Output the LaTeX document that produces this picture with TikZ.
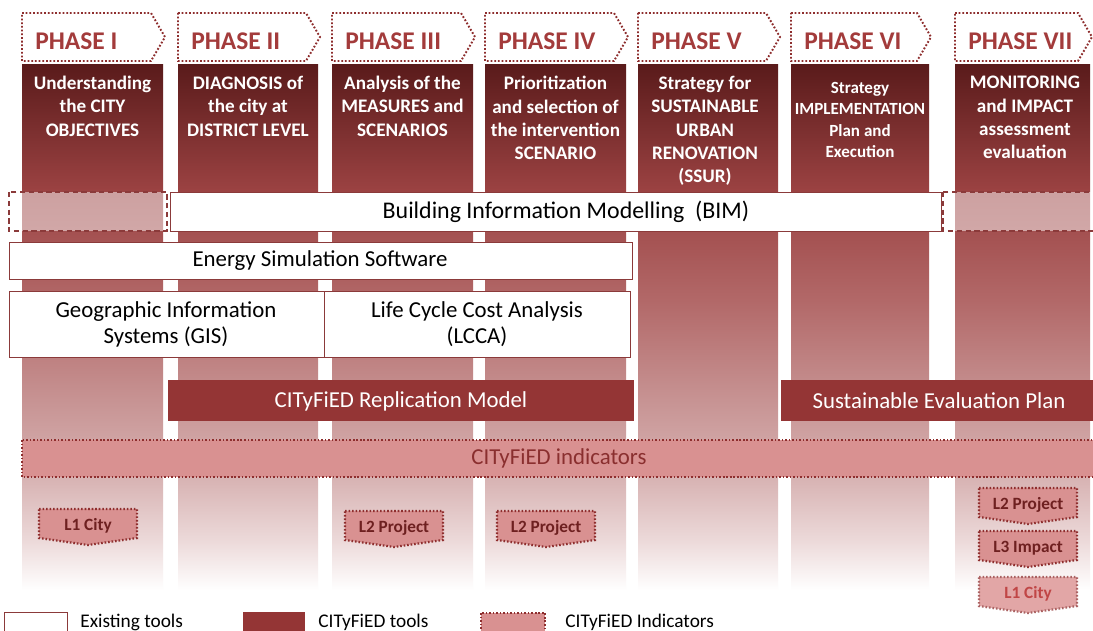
\documentclass[tikz,border=0pt]{standalone}
\usepackage{fontspec}
\setmainfont{Carlito}
\definecolor{cA}{HTML}{5A1B1B}
\definecolor{cB}{HTML}{9B4242}
\definecolor{cC}{HTML}{B26868}
\definecolor{cD}{HTML}{C79393}
\definecolor{cE}{HTML}{D8B4B4}
\definecolor{cF}{HTML}{ECD9D9}
\definecolor{dred}{HTML}{8E2E2E}
\definecolor{phasered}{HTML}{A33B3B}
\definecolor{toolred}{HTML}{943535}
\definecolor{bandfill}{HTML}{D99191}
\definecolor{bandtext}{HTML}{8A2F2F}
\definecolor{badgetext}{HTML}{6E2020}
\definecolor{boxline}{HTML}{8B3A3A}
\definecolor{lightbadge}{HTML}{E2A6A6}
\definecolor{lighttext}{HTML}{C04646}
\pgfdeclareverticalshading{colshade}{100bp}{color(0bp)=(white); color(25bp)=(white); color(29.76bp)=(cF); color(35.48bp)=(cE); color(43.1bp)=(cD); color(52.62bp)=(cC); color(63.1bp)=(cB); color(75bp)=(cA); color(100bp)=(cA)}
\begin{document}
\begin{tikzpicture}[x=0.02cm,y=-0.02cm,
  colbox/.style={shading=colshade, draw=none},
  phasebox/.style={draw=dred, fill=white, line width=1.1pt, dash pattern=on 1pt off 1.1pt},
  phasetext/.style={anchor=west, inner sep=0pt, font=\fontsize{14.5}{17}\selectfont\bfseries, text=phasered},
  headtext/.style={anchor=north, inner sep=0pt, align=center, text=white, font=\fontsize{10.9}{13.2}\selectfont\bfseries},
  existbox/.style={draw=boxline, fill=white, line width=0.5pt},
  dashbox/.style={draw=boxline, fill=white, fill opacity=0.5, line width=0.6pt, dash pattern=on 3pt off 2pt},
  tooltext/.style={inner sep=0pt, align=center, font=\fontsize{13}{14.8}\selectfont, text=black},
  darkbox/.style={fill=toolred, draw=none},
  darktext/.style={inner sep=0pt, font=\fontsize{13}{15}\selectfont, text=white},
  dotbox/.style={draw=dred, fill=bandfill, line width=1.3pt, dash pattern=on 0.9pt off 1.1pt},
  badgelabel/.style={inner sep=0pt, font=\fontsize{9.8}{11}\selectfont\bfseries, text=badgetext},
  legendtext/.style={anchor=west, inner sep=0pt, font=\fontsize{11}{13}\selectfont, text=black}]
\useasboundingbox (0,0) rectangle (1093,631);
\fill[white] (0,0) rectangle (1093,631);
% columns
\foreach \xa/\xb/\nm in {22/163/I, 178/318/II, 332/473/III, 485/626/IV, 638/778/V, 791/929/VI, 955/1090/VII}{
  \path[colbox] (\xa,65) rectangle (\xb,590);
  \draw[phasebox] (\xa,13) -- ({\xb-12},13) -- ({\xb+2},37) -- ({\xb-12},61) -- (\xa,61) -- cycle;
  \node[phasetext] (ph\nm) at ({\xa+13},41) {PHASE \nm};
}
% header texts
\node[headtext] (h1) at (92.5,76) {Understanding\\the CITY\\OBJECTIVES};
\node[headtext] (h2) at (248,76) {DIAGNOSIS of\\the city at\\DISTRICT LEVEL};
\node[headtext] (h3) at (402.5,76) {Analysis of the\\MEASURES and\\SCENARIOS};
\node[headtext] (h4) at (555.5,76) {Prioritization\\and selection of\\the intervention\\SCENARIO};
\node[headtext] (h5) at (705,76) {Strategy for\\SUSTAINABLE\\URBAN\\RENOVATION\\(SSUR)};
\node[headtext, font=\fontsize{9.7}{12.1}\selectfont\bfseries] (h6) at (860,82) {Strategy\\IMPLEMENTATION\\Plan and\\Execution};
\node[headtext] (h7) at (1025,76) {MONITORING\\and IMPACT\\assessment\\evaluation};
% BIM row
\path[dashbox] (9,192) rectangle (167,231);
\path[dashbox] (943,192) rectangle (1100,231);
\path[existbox] (170,192) rectangle (941,231);
\node[tooltext, font=\fontsize{13.6}{15}\selectfont] (bim) at (566,212) {Building Information Modelling~~(BIM)};
% Energy simulation
\path[existbox] (9,242) rectangle (632,279);
\node[tooltext] (ess) at (320,261) {Energy Simulation Software};
% GIS and LCCA
\path[existbox] (9,291) rectangle (324,357);
\node[tooltext] (gis) at (166,324) {Geographic Information\\Systems (GIS)};
\path[existbox] (324,291) rectangle (630,357);
\node[tooltext] (lcca) at (477,324) {Life Cycle Cost Analysis\\(LCCA)};
% CITyFiED tools
\path[darkbox] (168,380) rectangle (634,421);
\node[darktext] (crm) at (401,401) {CITyFiED Replication Model};
\path[darkbox] (781,380) rectangle (1100,421);
\node[darktext] (sep) at (939,401) {Sustainable Evaluation Plan};
% indicators band
\path[dotbox] (22,440) rectangle (1100,477);
\node[darktext, text=bandtext] (ind) at (559,458) {CITyFiED indicators};
% badges
\foreach \bx/\by/\bt/\nm in {39/509/L1 City/b1, 345/511/L2 Project/b3, 497/511/L2 Project/b4, 979/488/L2 Project/b7a, 979/531/L3 Impact/b7b}{
  \path[dotbox] (\bx,\by) -- ({\bx+98},\by) -- ({\bx+98},{\by+29}) -- ({\bx+49},{\by+36}) -- (\bx,{\by+29}) -- cycle;
  \node[badgelabel] (\nm) at ({\bx+49},{\by+17}) {\bt};
}
\path[dotbox, fill=lightbadge, draw=dred!75] (979,577) -- (1077,577) -- (1077,606) -- (1028,613) -- (979,606) -- cycle;
\node[badgelabel, text=lighttext] (b7c) at (1028,594) {L1 City};
% legend
\path[existbox] (4,612) rectangle (67,640);
\node[legendtext] (lg1) at (80,622) {Existing tools};
\path[darkbox] (243,612) rectangle (305,640);
\node[legendtext] (lg2) at (318,622) {CITyFiED tools};
\path[dotbox] (481,613) rectangle (545,640);
\node[legendtext] (lg3) at (565,622) {CITyFiED Indicators};
\end{tikzpicture}
\end{document}
